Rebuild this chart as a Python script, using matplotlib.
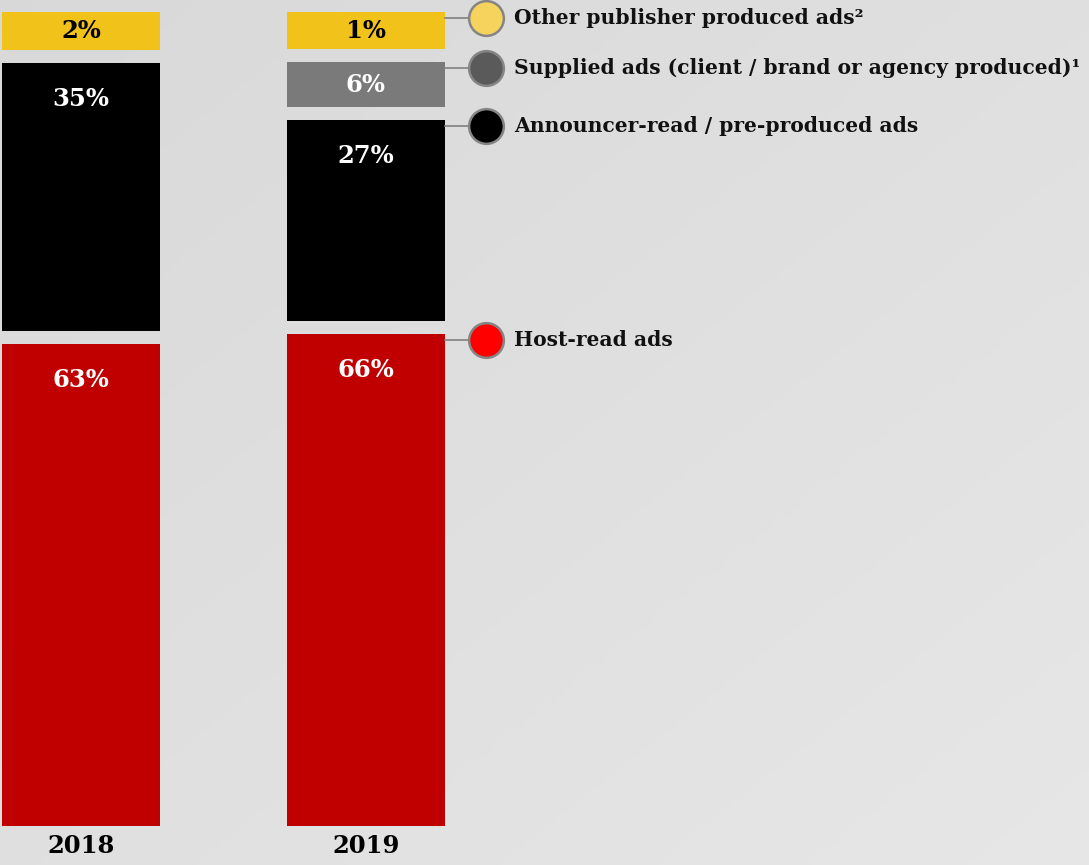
import numpy as np
import matplotlib
matplotlib.use("Agg")
import matplotlib.pyplot as plt

# data
years = ["2018", "2019"]
categories = [
    "Host-read ads",
    "Announcer-read / pre-produced ads",
    "Supplied ads (client / brand or agency produced)\u00b9",
    "Other publisher produced ads\u00b2",
]
share_2018 = [63, 35, 0, 2]
share_2019 = [66, 27, 6, 1]

bar_colors = ["#C00000", "#000000", "#7A7A7A", "#F0C21A"]
dot_colors = ["#FF0000", "#000000", "#5A5A5A", "#F5D35C"]
text_colors = ["white", "white", "white", "black"]

W, H = 1089, 865
plt.rcParams["font.family"] = ["DejaVu Serif"]
plt.rcParams["font.weight"] = "bold"

fig = plt.figure(figsize=(W / 100, H / 100), dpi=100)

# background: soft diagonal grey gradient
bg = fig.add_axes([0, 0, 1, 1])
gx, gy = np.meshgrid(np.linspace(0, 1, 200), np.linspace(0, 1, 200))
shade = 0.85 + 0.055 * (gx + gy) / 2
bg.imshow(np.dstack([shade] * 3), extent=[0, 1, 0, 1], aspect="auto", origin="upper")
bg.axis("off")

ax = fig.add_axes([0, 39 / H, 1, 814 / H])
ax.patch.set_alpha(0)
ax.axis("off")
ax.set_ylim(0, 1)
x0, x1 = -0.284, 3.537
ax.set_xlim(x0, x1)
px_x = (x1 - x0) / W        # data units per pixel (x)
px_y = 1 / 814              # data units per pixel (y)

gap = 13 * px_y
floor = 5                   # minimum shown size so small labels fit
width = 0.554

seg_tops = {}
for i, shares in enumerate([share_2018, share_2019]):
    idx = [k for k, v in enumerate(shares) if v > 0]
    shown = np.array([max(shares[k], floor) for k in idx], dtype=float)
    avail = 1 - gap * (len(idx) - 1)
    heights = shown / shown.sum() * avail
    bottom = 0
    for k, h in zip(idx, heights):
        ax.bar(i, h, bottom=bottom, width=width, color=bar_colors[k], linewidth=0)
        top = bottom + h
        ty = top - min(h / 2, 36 * px_y)
        ax.text(i, ty, f"{shares[k]}%", ha="center", va="center",
                color=text_colors[k], fontsize=17.5, fontweight="bold")
        if i == 1:
            seg_tops[k] = top
        bottom = top + gap
    ax.text(i, -20 * px_y, years[i], ha="center", va="center",
            fontsize=17.5, fontweight="bold", color="black", clip_on=False)

# legend with leader lines
bar_right = 1 + width / 2
cx = bar_right + 41 * px_x
for k, top in seg_tops.items():
    ly = top - 6 * px_y
    ax.plot([bar_right, cx], [ly, ly], color="#808080", lw=1.2,
            clip_on=False, zorder=2)
    ax.plot(cx, ly, "o", ms=25, mfc=dot_colors[k], mec="#858585", mew=1.8,
            clip_on=False, zorder=3)
    ax.text(cx + 28 * px_x, ly, categories[k], ha="left", va="center",
            fontsize=14.6, fontweight="bold", color="#111111", clip_on=False)

fig.savefig("out.png", dpi=100)
